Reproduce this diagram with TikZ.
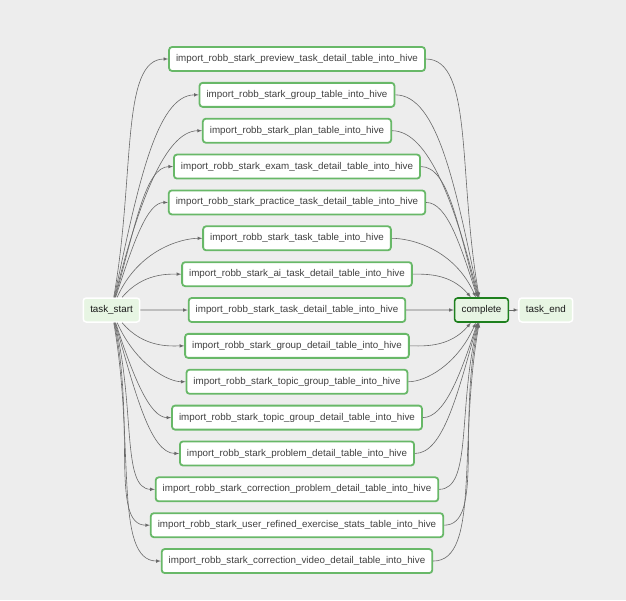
\documentclass[tikz,border=0pt]{standalone}
\usepackage{fontspec}
\setmainfont{Liberation Sans}
\usetikzlibrary{positioning}

\definecolor{bggray}{RGB}{237,237,237}
\definecolor{taskgreen}{RGB}{104,184,104}
\definecolor{donegreen}{RGB}{30,128,30}
\definecolor{palegreen}{RGB}{231,245,227}
\definecolor{edgegray}{RGB}{105,105,105}

\tikzset{
  task/.style={draw=taskgreen, line width=1.8pt, fill=white, rounded corners=3pt,
    minimum height=24pt, inner xsep=7pt, font=\fontsize{9.8}{11}\selectfont, text=black!75},
  ends/.style={draw=white, line width=1.5pt, fill=palegreen, rounded corners=3pt,
    minimum height=24pt, inner xsep=7pt, font=\fontsize{9.8}{11}\selectfont, text=black!90},
  edge/.style={draw=edgegray, line width=0.6pt, ->}
}

\begin{document}
\begin{tikzpicture}[x=1pt, y=-1pt, >=latex]

  % Background, also fixes the page size
  \fill[bggray] (0,0) rectangle (626,600);
  \useasboundingbox (0,0) rectangle (626,600);

  % Start, join and end nodes
  \node[ends] (task_start) at (111.5,310) {task\_start};
  \node[ends, draw=donegreen, line width=1.6pt] (complete) at (481.5,310) {complete};
  \node[ends, right=9pt of complete] (task_end) {task\_end};

  % One import task per row, fanned out from task_start and joined at complete
  \foreach \i/\ang/\tname in {
      1/80/preview\_task\_detail, 2/78/group, 3/76/plan,
      4/74/exam\_task\_detail, 5/72/practice\_task\_detail, 6/66/task,
      7/50/ai\_task\_detail, 8/0/task\_detail, 9/-50/group\_detail,
      10/-66/topic\_group, 11/-72/topic\_group\_detail, 12/-74/problem\_detail,
      13/-76/correction\_problem\_detail, 14/-78/user\_refined\_exercise\_stats,
      15/-80/correction\_video\_detail} {
    \node[task] (b\i) at (297, {59+35.86*(\i-1)}) {import\_robb\_stark\_\tname\_table\_into\_hive};
    \pgfmathsetmacro\angin{(\ang<0 ? -180 : 180)-\ang}
    \draw[edge] (task_start) to[out=\ang, in=180, out looseness=1.3, in looseness=0.5] (b\i);
    \draw[edge] (b\i) to[out=0, in=\angin, out looseness=0.5, in looseness=1.3] (complete);
  }

  % Last step
  \draw[edge] (complete) -- (task_end);

\end{tikzpicture}
\end{document}
